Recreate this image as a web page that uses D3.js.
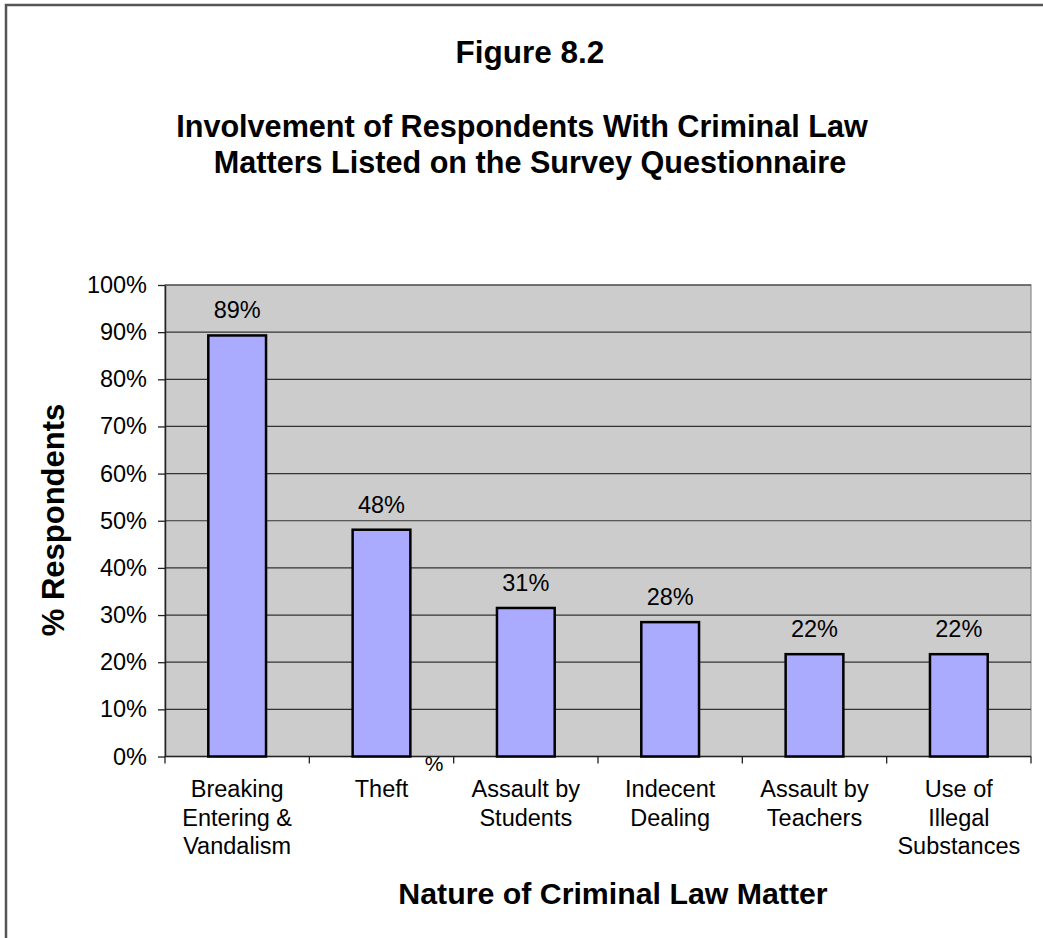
<!DOCTYPE html>
<html>
<head>
<meta charset="utf-8">
<script src="https://cdn.jsdelivr.net/npm/d3@7"></script>
<style>
  html, body { margin: 0; padding: 0; background: #fff; }
  svg { display: block; font-family: "Liberation Sans", Arial, sans-serif; }
</style>
</head>
<body>
<svg id="chart" width="1043" height="938"></svg>
<script>
const categories = [
  ["Breaking", "Entering &", "Vandalism"],
  ["Theft"],
  ["Assault by", "Students"],
  ["Indecent", "Dealing"],
  ["Assault by", "Teachers"],
  ["Use of", "Illegal", "Substances"]
];
const values = [89.3, 48.1, 31.5, 28.5, 21.7, 21.7];
const valueLabels = ["89%", "48%", "31%", "28%", "22%", "22%"];
const yTicks = [0, 10, 20, 30, 40, 50, 60, 70, 80, 90, 100];
const figureLabel = "Figure 8.2";
const titleLines = ["Involvement of Respondents With Criminal Law", "Matters Listed on the Survey Questionnaire"];
const yTitle = "% Respondents";
const xTitle = "Nature of Criminal Law Matter";

const svg = d3.select("#chart");
const plot = { left: 165, right: 1031, top: 285, bottom: 756.5 };

// Outer frame
svg.append("rect")
  .attr("x", 6).attr("y", 5).attr("width", 1100).attr("height", 1000)
  .attr("fill", "#fff").attr("stroke", "#555").attr("stroke-width", 2.5);

const x = d3.scaleBand().domain(d3.range(categories.length))
  .range([plot.left, plot.right]).paddingInner(0.6).paddingOuter(0.3);
const xOuter = d3.scaleBand().domain(d3.range(categories.length))
  .range([plot.left, plot.right]).padding(0);
const y = d3.scaleLinear().domain([0, 100]).range([plot.bottom, plot.top]);

// Plot area background
svg.append("rect")
  .attr("x", plot.left).attr("y", plot.top)
  .attr("width", plot.right - plot.left).attr("height", plot.bottom - plot.top)
  .attr("fill", "#cccccc").attr("stroke", "#8a8a8a").attr("stroke-width", 1.2);

// Gridlines
svg.append("g").selectAll("line").data(yTicks.filter(d => d > 0)).join("line")
  .attr("x1", plot.left).attr("x2", plot.right)
  .attr("y1", d => y(d)).attr("y2", d => y(d))
  .attr("stroke", "#333").attr("stroke-width", 1.2);

// Y axis
const yAxis = d3.axisLeft(y).tickValues(yTicks).tickFormat(d => d + "%")
  .tickSizeOuter(0).tickSizeInner(7).tickPadding(11);
const yg = svg.append("g").attr("transform", `translate(${plot.left},0)`).call(yAxis);
yg.select(".domain").attr("stroke", "#222").attr("stroke-width", 1.5);
yg.selectAll(".tick line").attr("stroke", "#222").attr("stroke-width", 1.3);
yg.selectAll(".tick text").attr("font-size", 23.5).attr("fill", "#000")
  .attr("font-family", "Liberation Sans, Arial, sans-serif");

// X axis with ticks at category boundaries
const boundaries = d3.range(categories.length + 1).map(i =>
  i < categories.length ? xOuter(i) : plot.right);
svg.append("line")
  .attr("x1", plot.left).attr("x2", plot.right)
  .attr("y1", plot.bottom).attr("y2", plot.bottom)
  .attr("stroke", "#222").attr("stroke-width", 1.5);
svg.append("g").selectAll("line").data(boundaries).join("line")
  .attr("x1", d => d).attr("x2", d => d)
  .attr("y1", plot.bottom).attr("y2", plot.bottom + 7)
  .attr("stroke", "#222").attr("stroke-width", 1.3);

// Bars
svg.append("g").selectAll("rect").data(values).join("rect")
  .attr("x", (d, i) => x(i)).attr("width", x.bandwidth())
  .attr("y", d => y(d)).attr("height", d => y(0) - y(d))
  .attr("fill", "#aaaaff").attr("stroke", "#000").attr("stroke-width", 2.5);

// Value labels
svg.append("g").selectAll("text").data(values).join("text")
  .attr("x", (d, i) => x(i) + x.bandwidth() / 2)
  .attr("y", d => y(d) - 17)
  .attr("text-anchor", "middle").attr("font-size", 23.5).attr("fill", "#000")
  .text((d, i) => valueLabels[i]);

// Category labels
const catG = svg.append("g");
categories.forEach((lines, i) => {
  const t = catG.append("text")
    .attr("x", xOuter(i) + xOuter.bandwidth() / 2)
    .attr("y", 797)
    .attr("text-anchor", "middle").attr("font-size", 23.5).attr("fill", "#000");
  lines.forEach((ln, j) => {
    t.append("tspan").attr("x", xOuter(i) + xOuter.bandwidth() / 2)
      .attr("dy", j === 0 ? 0 : 28.5).text(ln);
  });
});

// Stray percent sign under axis
svg.append("text").attr("x", 434).attr("y", 771)
  .attr("text-anchor", "middle").attr("font-size", 21).attr("fill", "#000").text("%");

// Titles
svg.append("text").attr("x", 530).attr("y", 63)
  .attr("text-anchor", "middle").attr("font-size", 31.5).attr("font-weight", "bold")
  .text(figureLabel);
titleLines.forEach((ln, i) => {
  svg.append("text").attr("x", i === 0 ? 522 : 530).attr("y", 137 + i * 36)
    .attr("text-anchor", "middle").attr("font-size", 30.6).attr("font-weight", "bold")
    .text(ln);
});

// Axis titles
svg.append("text")
  .attr("transform", `translate(64,520) rotate(-90)`)
  .attr("text-anchor", "middle").attr("font-size", 31).attr("font-weight", "bold")
  .text(yTitle);
svg.append("text").attr("x", 613).attr("y", 904)
  .attr("text-anchor", "middle").attr("font-size", 30.3).attr("font-weight", "bold")
  .text(xTitle);
</script>
</body>
</html>
